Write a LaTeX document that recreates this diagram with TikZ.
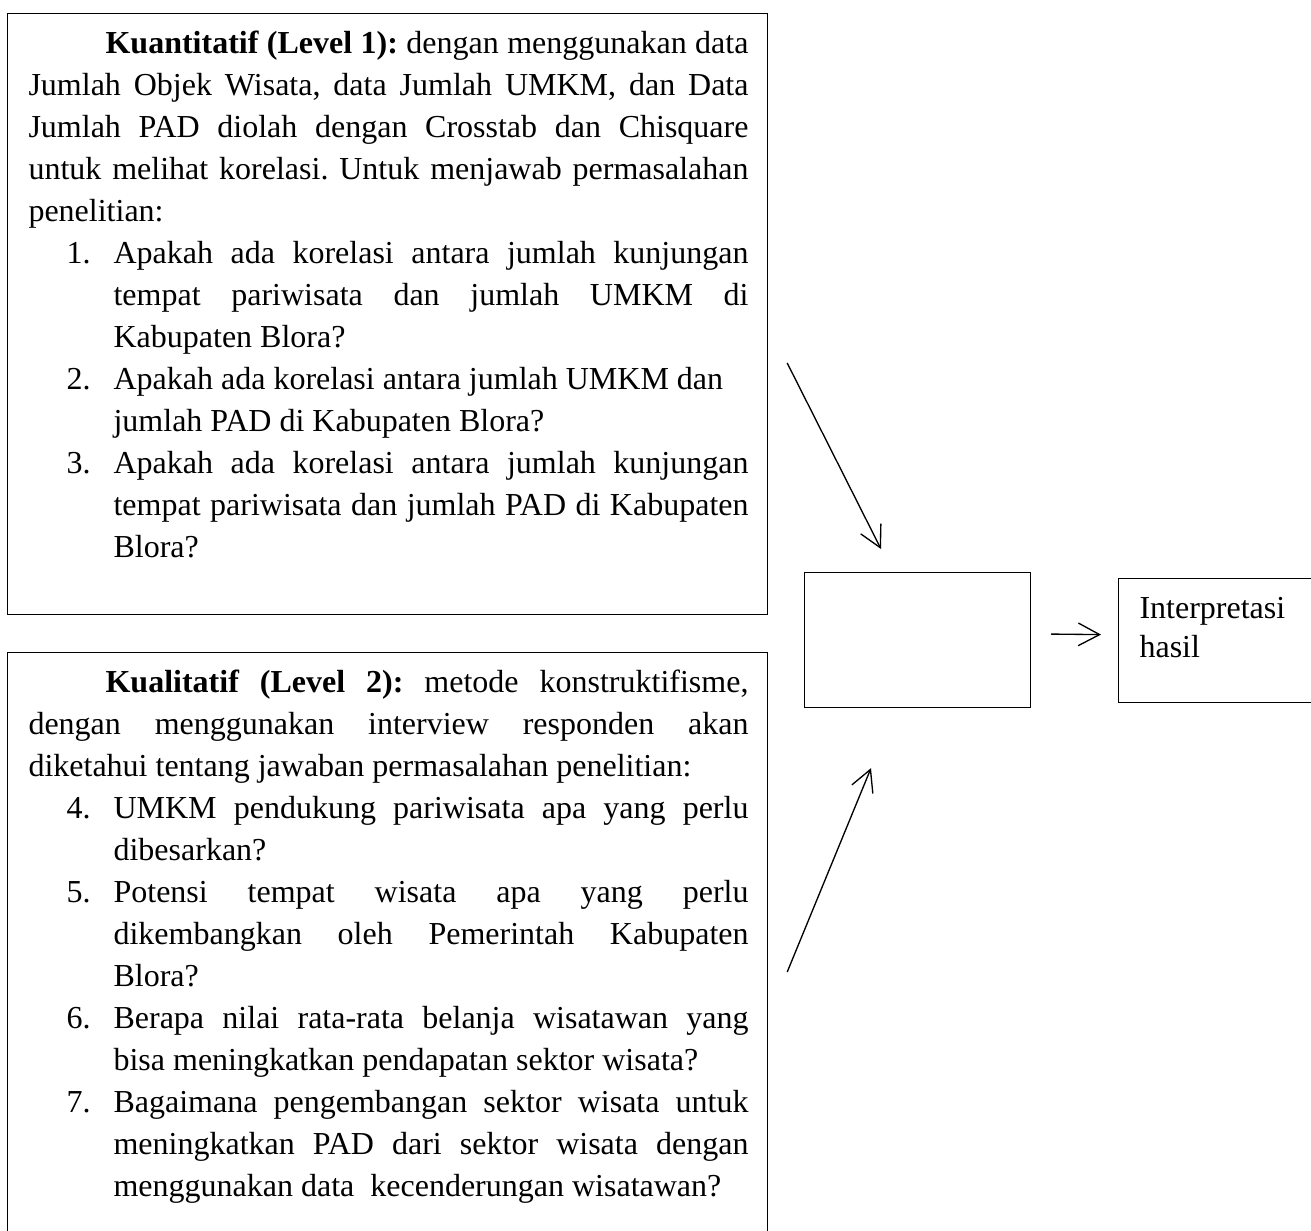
\documentclass[tikz,border=0pt]{standalone}
\usepackage{fontspec}
\setmainfont{Liberation Serif}
\usetikzlibrary{arrows.meta}
\frenchspacing
% one list item: number, then hanging text
\newcommand{\butir}[1]{\par\noindent\hangindent=31.9pt\hangafter=1\hspace*{14.25pt}\makebox[17.65pt][l]{#1}\ignorespaces}
\begin{document}
\begin{tikzpicture}[x=0.375pt,y=-0.375pt,
  box/.style={draw, line width=0.45pt, inner sep=0, anchor=north west},
  txt/.style={anchor=north west, inner sep=0, text width=270pt, align=justify,
    font=\fontsize{12pt}{15.75pt}\selectfont},
  arr/.style={line width=0.5pt, -{Straight Barb[length=8pt,width=8.5pt]}}]
\useasboundingbox (0,0) rectangle (1311,1230);
\clip (0,0) rectangle (1311,1230);
% boxes
\node[box, minimum width=285pt, minimum height=225.4pt] (kuan) at (7,13) {};
\node[box, minimum width=285pt, minimum height=228pt] (kual) at (7,652) {};
\node[box, minimum width=84.75pt, minimum height=50.6pt] (mid) at (804,572) {};
\node[box, minimum width=79.5pt, minimum height=46.5pt] (hasil) at (1118,578) {};
% texts
\node[txt] (kuanText) at ([shift={(21,8)}]kuan.north west) {\frenchspacing\tolerance=10000\hbadness=10000\exhyphenpenalty=10000
\noindent\rule{0pt}{12pt}\hspace*{28.9pt}\textbf{Kuantitatif (Level 1):} dengan menggunakan data\linebreak
Jumlah Objek Wisata, data Jumlah UMKM, dan Data\linebreak
Jumlah PAD diolah dengan Crosstab dan Chisquare\linebreak
untuk melihat korelasi. Untuk menjawab permasalahan\linebreak
penelitian:
\butir{1.}Apakah ada korelasi antara jumlah kunjungan\linebreak
tempat pariwisata dan jumlah UMKM di\linebreak
Kabupaten Blora?
\butir{2.}Apakah ada korelasi antara jumlah UMKM dan\newline
jumlah PAD di Kabupaten Blora?
\butir{3.}Apakah ada korelasi antara jumlah kunjungan\linebreak
tempat pariwisata dan jumlah PAD di Kabupaten\linebreak
Blora?\par};
\node[txt] (kualText) at ([shift={(21,8)}]kual.north west) {\frenchspacing\tolerance=10000\hbadness=10000\exhyphenpenalty=10000
\noindent\rule{0pt}{12pt}\hspace*{28.9pt}\textbf{Kualitatif (Level 2):} metode konstruktifisme,\linebreak
dengan menggunakan interview responden akan\linebreak
diketahui tentang jawaban permasalahan penelitian:
\butir{4.}UMKM pendukung pariwisata apa yang perlu\linebreak
dibesarkan?
\butir{5.}Potensi tempat wisata apa yang perlu\linebreak
dikembangkan oleh Pemerintah Kabupaten\linebreak
Blora?
\butir{6.}Berapa nilai rata-rata belanja wisatawan yang\linebreak
bisa meningkatkan pendapatan sektor wisata?
\butir{7.}Bagaimana pengembangan sektor wisata untuk\linebreak
meningkatkan PAD dari sektor wisata dengan\linebreak
menggunakan data\ \ kecenderungan wisatawan?\par};
\node[anchor=north west, inner sep=0, align=left, font=\fontsize{12pt}{14.6pt}\selectfont] (hasilText)
  at ([shift={(21,8)}]hasil.north west) {\rule{0pt}{12pt}Interpretasi\\hasil};
% arrows
\coordinate (a1s) at ([shift={(19,350)}]kuan.north east);
\coordinate (a1e) at ([shift={(77,-23)}]mid.north west);
\coordinate (a2s) at ([shift={(19,320)}]kual.north east);
\coordinate (a2e) at ([shift={(67,60)}]mid.south west);
\coordinate (a3s) at ([shift={(20,-6)}]mid.east);
\coordinate (a3e) at ([shift={(-17,-6)}]hasil.west);
\draw[arr] (a1s) -- (a1e);
\draw[arr] (a2s) -- (a2e);
\draw[arr] (a3s) -- (a3e);
\end{tikzpicture}
\end{document}
